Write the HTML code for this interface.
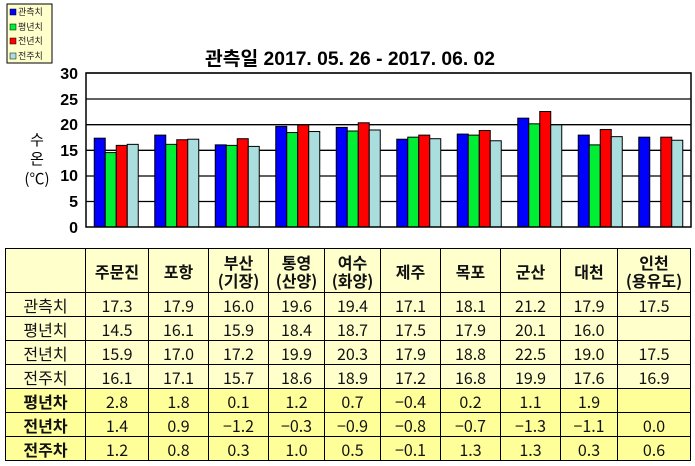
<!DOCTYPE html>
<html><head><meta charset="utf-8"><style>
body{margin:0;width:695px;height:466px;background:#fff;position:relative;overflow:hidden;font-family:"Liberation Sans","Noto Sans CJK KR",sans-serif}
table{position:absolute;left:5px;top:248px;border-collapse:collapse;table-layout:fixed}
tr{height:24px}
td{border:1.5px solid #000;text-align:center;padding:0;font-size:16px;background:#ffffcc;color:#111;font-family:"Noto Sans CJK KR","Liberation Sans",sans-serif;line-height:18px}
tr.h{height:44px}
tr.h td{font-weight:bold;font-size:16px}
tr.d td{background:#ffff99}
tr.d td:first-child{font-weight:bold}
</style></head><body>
<svg width="695" height="245" style="position:absolute;left:0;top:0" font-family="Liberation Sans, Noto Sans CJK KR, sans-serif">
<rect x="7" y="4" width="45" height="59" fill="#ffffcc" stroke="#000" stroke-width="1"/>
<g font-size="9" fill="#222" font-family="Noto Sans CJK KR, sans-serif">
<rect x="10" y="9" width="6" height="6" fill="#0000ff" stroke="#000" stroke-width=".5"/><text x="18" y="15">관측치</text>
<rect x="10" y="24" width="6" height="6" fill="#00ee33" stroke="#000" stroke-width=".5"/><text x="18" y="30">평년치</text>
<rect x="10" y="38" width="6" height="6" fill="#ff0000" stroke="#000" stroke-width=".5"/><text x="18" y="44">전년치</text>
<rect x="10" y="53" width="6" height="6" fill="#aadddd" stroke="#000" stroke-width=".5"/><text x="18" y="59">전주치</text>
</g>
<text x="350" y="65" text-anchor="middle" font-size="19" font-weight="bold" font-family="Liberation Sans, Noto Sans CJK KR, sans-serif" textLength="290" lengthAdjust="spacingAndGlyphs">관측일 2017. 05. 26 - 2017. 06. 02</text>
<g stroke="#000" stroke-width="1.3">
<line x1="86" y1="73" x2="691" y2="73"/><line x1="86" y1="99" x2="691" y2="99"/><line x1="86" y1="124.7" x2="691" y2="124.7"/><line x1="86" y1="150.3" x2="691" y2="150.3"/><line x1="86" y1="176" x2="691" y2="176"/><line x1="86" y1="201.5" x2="691" y2="201.5"/>
</g>
<g font-size="16" font-weight="bold" text-anchor="end" font-family="Liberation Sans Narrow, Liberation Sans, sans-serif">
<text x="78" y="79">30</text><text x="78" y="105">25</text><text x="78" y="130">20</text><text x="78" y="156">15</text><text x="78" y="181">10</text><text x="78" y="207">5</text><text x="78" y="233">0</text>
</g>
<g font-size="15" text-anchor="middle" font-family="Noto Sans CJK KR, sans-serif"><text x="37" y="145">수</text><text x="37" y="164">온</text><text x="37" y="184">(℃)</text></g>
<g id="bars" stroke="#000" stroke-width="1"></g>
<rect x="86" y="73" width="605" height="154" fill="none" stroke="#000" stroke-width="1.5"/>
</svg>
<table>
<colgroup><col style="width:80px"><col style="width:63px"><col style="width:60px"><col style="width:60px"><col style="width:56px"><col style="width:56px"><col style="width:60px"><col style="width:60px"><col style="width:60px"><col style="width:57px"><col style="width:73px"></colgroup>
<tr class="h"><td></td><td>주문진</td><td>포항</td><td>부산<br>(기장)</td><td>통영<br>(산양)</td><td>여수<br>(화양)</td><td>제주</td><td>목포</td><td>군산</td><td>대천</td><td>인천<br>(용유도)</td></tr>
<tr><td>관측치</td><td>17.3</td><td>17.9</td><td>16.0</td><td>19.6</td><td>19.4</td><td>17.1</td><td>18.1</td><td>21.2</td><td>17.9</td><td>17.5</td></tr>
<tr><td>평년치</td><td>14.5</td><td>16.1</td><td>15.9</td><td>18.4</td><td>18.7</td><td>17.5</td><td>17.9</td><td>20.1</td><td>16.0</td><td></td></tr>
<tr><td>전년치</td><td>15.9</td><td>17.0</td><td>17.2</td><td>19.9</td><td>20.3</td><td>17.9</td><td>18.8</td><td>22.5</td><td>19.0</td><td>17.5</td></tr>
<tr><td>전주치</td><td>16.1</td><td>17.1</td><td>15.7</td><td>18.6</td><td>18.9</td><td>17.2</td><td>16.8</td><td>19.9</td><td>17.6</td><td>16.9</td></tr>
<tr class="d"><td>평년차</td><td>2.8</td><td>1.8</td><td>0.1</td><td>1.2</td><td>0.7</td><td>−0.4</td><td>0.2</td><td>1.1</td><td>1.9</td><td></td></tr>
<tr class="d"><td>전년차</td><td>1.4</td><td>0.9</td><td>−1.2</td><td>−0.3</td><td>−0.9</td><td>−0.8</td><td>−0.7</td><td>−1.3</td><td>−1.1</td><td>0.0</td></tr>
<tr class="d"><td>전주차</td><td>1.2</td><td>0.8</td><td>0.3</td><td>1.0</td><td>0.5</td><td>−0.1</td><td>1.3</td><td>1.3</td><td>0.3</td><td>0.6</td></tr>
</table>
<script>
var d=[[17.3,14.5,15.9,16.1],[17.9,16.1,17.0,17.1],[16.0,15.9,17.2,15.7],[19.6,18.4,19.9,18.6],[19.4,18.7,20.3,18.9],[17.1,17.5,17.9,17.2],[18.1,17.9,18.8,16.8],[21.2,20.1,22.5,19.9],[17.9,16.0,19.0,17.6],[17.5,null,17.5,16.9]];
var c=["#0000ff","#00ee33","#ff0000","#aadddd"],s="";
for(var i=0;i<10;i++)for(var j=0;j<4;j++){var v=d[i][j];if(v==null)continue;var x=86+8.25+60.5*i+11*j,h=v*154/30;s+='<rect x="'+x+'" y="'+(227-h)+'" width="11" height="'+h+'" fill="'+c[j]+'"/>';}
document.getElementById("bars").innerHTML=s;
</script>
</body></html>
